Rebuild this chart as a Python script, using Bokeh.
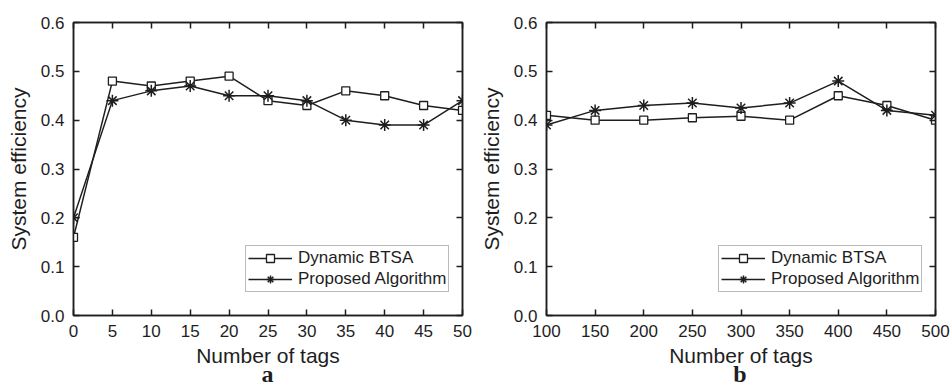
from bokeh.plotting import figure
from bokeh.models import (LinearAxis, FixedTicker, Legend, LegendItem, Range1d, Div,
                          CustomLabelingPolicy)
from bokeh.layouts import row, column
from bokeh.embed import file_html
from bokeh.resources import INLINE

# ---- data ----
tags_a = [0, 5, 10, 15, 20, 25, 30, 35, 40, 45, 50]
btsa_a = [0.16, 0.48, 0.47, 0.48, 0.49, 0.44, 0.43, 0.46, 0.45, 0.43, 0.42]
prop_a = [0.20, 0.44, 0.46, 0.47, 0.45, 0.45, 0.44, 0.40, 0.39, 0.39, 0.44]

tags_b = [100, 150, 200, 250, 300, 350, 400, 450, 500]
btsa_b = [0.41, 0.40, 0.40, 0.405, 0.408, 0.40, 0.45, 0.43, 0.40]
prop_b = [0.39, 0.42, 0.43, 0.435, 0.425, 0.435, 0.48, 0.42, 0.41]

y_ticks = [0.0, 0.1, 0.2, 0.3, 0.4, 0.5, 0.6]
x_ticks_a = [0, 5, 10, 15, 20, 25, 30, 35, 40, 45, 50]
x_ticks_b = [100, 150, 200, 250, 300, 350, 400, 450, 500]

series_names = ["Dynamic BTSA", "Proposed Algorithm"]
x_title = "Number of tags"
y_title = "System efficiency"
panel_letters = ["a", "b"]

INK = "#1e1e1e"
SANS = "Liberation Sans"


def style_axis(ax, show_labels=True):
    ax.axis_line_color = INK
    ax.axis_line_width = 1.5
    ax.major_tick_line_color = INK
    ax.major_tick_line_width = 1.5
    ax.major_tick_in = 6
    ax.major_tick_out = 0
    ax.minor_tick_line_color = None
    ax.major_label_text_font = SANS
    ax.major_label_text_color = INK
    if show_labels:
        ax.major_label_text_font_size = "17px"
        ax.major_label_standoff = 9
    else:
        ax.major_label_policy = CustomLabelingPolicy(code="return []")
        ax.major_label_text_font_size = "1px"
        ax.major_label_standoff = 0
    ax.axis_label_text_font = SANS
    ax.axis_label_text_font_size = "21px"
    ax.axis_label_text_font_style = "normal"
    ax.axis_label_text_color = INK


def make_panel(xs, b1, b2, xticks, xr, width, border_left, border_right):
    p = figure(width=width, height=370, output_backend="svg", toolbar_location=None,
               x_range=Range1d(*xr), y_range=Range1d(0, 0.6),
               min_border_left=border_left, min_border_right=border_right,
               min_border_top=22, min_border_bottom=55)
    p.xgrid.visible = False
    p.ygrid.visible = False
    p.outline_line_color = INK
    p.outline_line_width = 1.5
    p.background_fill_color = "white"
    p.border_fill_color = "white"

    p.xaxis.ticker = FixedTicker(ticks=xticks)
    p.yaxis.ticker = FixedTicker(ticks=y_ticks)
    p.yaxis.major_label_overrides = {t: f"{t:.1f}" for t in y_ticks}
    p.xaxis.axis_label = x_title
    p.yaxis.axis_label = y_title
    style_axis(p.xaxis[0])
    style_axis(p.yaxis[0])
    p.xaxis.axis_label_standoff = 4
    p.yaxis.axis_label_standoff = 8

    top = LinearAxis(ticker=FixedTicker(ticks=xticks))
    style_axis(top, show_labels=False)
    p.add_layout(top, "above")
    right = LinearAxis(ticker=FixedTicker(ticks=y_ticks))
    style_axis(right, show_labels=False)
    p.add_layout(right, "right")

    l1 = p.line(xs, b1, line_color=INK, line_width=1.5)
    m1 = p.scatter(xs, b1, marker="square", size=8, fill_color="white",
                   line_color=INK, line_width=1.3)
    l2 = p.line(xs, b2, line_color=INK, line_width=1.5)
    m2 = p.scatter(xs, b2, marker="asterisk", size=12, line_color=INK, line_width=1.5)

    legend = Legend(items=[LegendItem(label=series_names[0], renderers=[l1, m1]),
                           LegendItem(label=series_names[1], renderers=[l2, m2])],
                    location=(172, 23))
    legend.label_text_font = SANS
    legend.label_text_font_size = "17px"
    legend.label_text_color = INK
    legend.label_height = 20
    legend.glyph_height = 20
    legend.glyph_width = 44
    legend.label_standoff = 6
    legend.spacing = 1
    legend.padding = 2
    legend.margin = 0
    legend.border_line_color = "#777777"
    legend.border_line_width = 1
    legend.background_fill_alpha = 1
    p.add_layout(legend, "center")
    return p


def letter_div(letter, width, left, frame_w):
    html = (f'<div style="margin-left:{left}px;width:{frame_w}px;text-align:center;'
            f'font-family:\'Liberation Serif\';font-weight:bold;font-size:24px;'
            f'line-height:16px;margin-top:-6px;overflow:visible;color:{INK};">{letter}</div>')
    return Div(text=html, width=width, height=16, margin=0,
               styles={"overflow": "visible"})


pa = make_panel(tags_a, btsa_a, prop_a, x_ticks_a, (0, 50), 476, 73, 14)
pb = make_panel(tags_b, btsa_b, prop_b, x_ticks_b, (100, 500), 476, 69, 17)
da = letter_div(panel_letters[0], 476, 73, 389)
db = letter_div(panel_letters[1], 476, 69, 390)

layout = column(row(pa, pb, spacing=0), row(da, db, spacing=0), spacing=0)
open("out.html", "w").write(file_html(layout, INLINE))
